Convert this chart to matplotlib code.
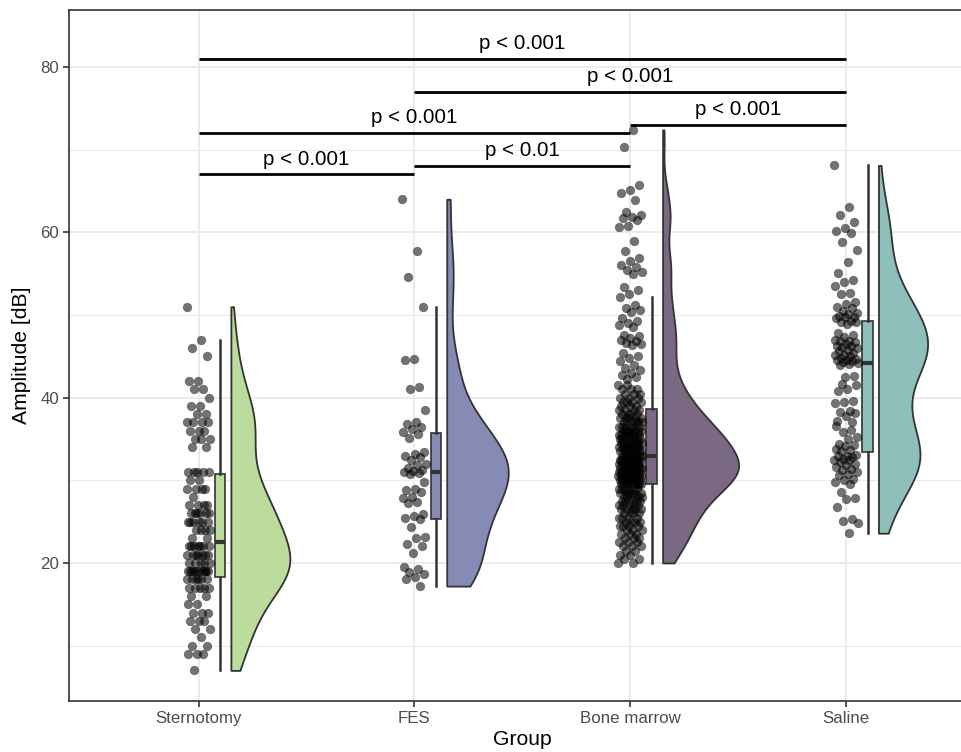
import numpy as np
import matplotlib
matplotlib.use("Agg")
import matplotlib.pyplot as plt

plt.rcParams['font.family'] = ['Liberation Sans', 'DejaVu Sans']

groups = ["Sternotomy", "FES", "Bone marrow", "Saline"]
fills = ["#bbdc9c", "#868bb5", "#7b6883", "#8ebfba"]

# amplitudes (dB)
sternotomy = [51, 47, 46, 45, 42, 42, 41, 41, 40, 39, 39, 38, 38, 37, 37, 37, 37,
              36, 36, 36, 35, 35, 35, 34, 34, 31, 31, 31, 31, 31,
              30, 30, 29, 29, 29, 29, 28, 27, 27, 27, 27, 26, 26, 26, 26, 26, 26,
              25, 25, 25, 25, 25, 25, 24, 24, 24, 24, 23, 23,
              22, 22, 22, 22, 22, 22, 22, 21, 21, 21, 21, 21, 21, 21, 20, 20, 20, 20, 20,
              19, 19, 19, 19, 19, 19, 19, 19, 19, 19,
              18, 18, 18, 18, 18, 18, 17, 17, 17, 17, 17, 16, 16, 15, 15, 14, 14, 14,
              13, 13, 13, 12, 12, 11, 10, 10, 9, 9, 9, 7]

fes = [64.0, 57.7, 54.6, 51.0, 44.7, 44.5, 41.3, 41.0, 38.5, 37.0, 36.8, 36.4, 36.2,
       35.8, 35.6, 35.1, 33.4, 33.2, 33.0, 32.8, 32.5, 32.0, 31.8, 31.5, 31.2, 31.1,
       31.0, 30.9, 30.8, 29.8, 28.9, 28.8, 28.6, 28.0, 27.9, 27.4, 27.2, 25.9, 25.7,
       25.5, 25.3, 24.4, 23.2, 23.0, 22.3, 22.1, 21.2, 19.5, 19.3, 18.9, 18.7, 18.3,
       18.1, 17.2]

# bone marrow: dense core read as value levels with counts, upper tail point by point
bm_levels = [20.0, 20.5, 21.0, 21.5, 22.0, 22.5, 23.0, 23.5, 24.0, 24.5, 25.0, 25.5,
             26.0, 26.5, 27.0, 27.5, 28.0, 28.5, 29.0, 29.5, 30.0, 30.5, 31.0, 31.5,
             32.0, 32.5, 33.0, 33.5, 34.0, 34.5, 35.0, 35.5, 36.0, 36.5, 37.0, 37.5,
             38.0, 38.5, 39.0, 39.5, 40.0, 40.5, 41.0, 41.5]
bm_counts = [2, 2, 2, 2, 3, 3, 3, 3, 3, 4, 4, 4,
             4, 5, 5, 5, 5, 6, 6, 9, 9, 10, 10, 10,
             9, 9, 9, 8, 8, 8, 7, 7, 7, 6, 6, 5,
             4, 4, 3, 4, 3, 3, 3, 2]
bm_tail = [72.4, 70.3, 65.7, 65.1, 64.8, 63.9, 62.5, 62.1, 61.9, 61.7, 61.5, 60.8,
           60.6, 58.9, 57.7, 56.9, 56.5, 56.1, 55.8, 55.5, 55.2, 54.9, 53.4, 53.0,
           52.6, 52.2, 51.2, 50.9, 50.6, 50.4, 49.6, 49.3, 49.0, 48.8, 48.6, 47.6,
           47.4, 47.2, 47.0, 46.8, 46.6, 46.5, 46.4, 45.4, 45.0, 44.8, 44.4, 44.0,
           43.6, 43.3, 43.0, 42.8, 42.5, 42.2]
bone_marrow = list(np.repeat(bm_levels, bm_counts)) + bm_tail

saline = [68.1, 63.1, 62.1, 61.3, 60.5, 60.2, 59.9, 58.8, 57.9, 56.4, 55.1, 54.2,
          54.0, 53.5, 52.7, 52.5, 51.6, 51.3, 51.0, 50.8, 50.5, 50.3, 50.1, 49.9,
          49.8, 49.7, 49.6,
          49.3, 49.2, 49.1, 48.9, 47.8, 47.6, 47.3, 47.0, 46.9,
          46.8, 46.7, 46.5, 46.3, 46.2, 46.1, 46.0, 45.8, 45.6, 45.4, 45.2, 45.1,
          45.0, 44.8, 44.7, 44.6, 44.5, 44.4, 44.3,
          44.2, 44.1, 44.0, 42.6, 42.5, 36.6, 36.1, 41.6, 41.5, 41.0, 40.8, 39.6,
          39.5, 39.4, 38.4, 38.3, 38.1, 37.8, 37.2, 37.0, 35.9, 35.2, 35.0, 34.4,
          34.3, 34.2, 33.8, 33.7, 33.6,
          33.1, 33.0, 32.9, 32.8, 32.6, 32.5, 32.4, 32.2, 32.0, 31.8, 31.6, 31.4,
          31.2, 31.0, 30.8, 30.6, 30.2, 30.0, 29.8, 29.6, 28.6, 27.9, 27.7, 26.8,
          25.3, 25.1, 24.8, 23.6]

data = [sternotomy, fes, bone_marrow, saline]

# pairwise comparisons
pairs = [(0, 1), (1, 2), (0, 2), (2, 3), (1, 3), (0, 3)]
pair_heights = [67, 68, 72, 73, 77, 81]
pair_labels = ["p < 0.001", "p < 0.01", "p < 0.001", "p < 0.001", "p < 0.001", "p < 0.001"]


def kde(vals):
    v = np.asarray(vals, float)
    n = len(v)
    iqr = np.percentile(v, 75) - np.percentile(v, 25)
    bw = 0.9 * min(v.std(ddof=1), iqr / 1.34) * n ** -0.2
    grid = np.linspace(v.min(), v.max(), 512)
    d = np.exp(-0.5 * ((grid[:, None] - v[None, :]) / bw) ** 2).sum(axis=1)
    return grid, d / (n * bw * np.sqrt(2 * np.pi))


fig = plt.figure(figsize=(9.62, 7.52), dpi=100)
ax = fig.add_axes([69 / 962, 1 - 701 / 752, (975.6 - 69) / 962, (701 - 10) / 752])

dens = [kde(d) for d in data]
dmax = max(d.max() for _, d in dens)

for i, (vals, fc) in enumerate(zip(data, fills)):
    pos = i + 1
    grid, d = dens[i]
    w = d / dmax * 0.352
    base = pos + 0.15
    ax.fill_betweenx(grid, base, base + w, facecolor=fc, edgecolor="#333333",
                     linewidth=1.3, zorder=2)

    ax.boxplot(vals, positions=[pos + 0.1], widths=0.05, patch_artist=True,
               showfliers=False, manage_ticks=False,
               boxprops=dict(facecolor=fc, edgecolor="#333333", linewidth=1.2),
               medianprops=dict(color="#333333", linewidth=3),
               whiskerprops=dict(color="#333333", linewidth=1.8),
               capprops=dict(linewidth=0), zorder=3)

    n = len(vals)
    jit = ((np.arange(n) * 0.6180339887) % 1 - 0.5) * 0.11
    ax.scatter(pos + jit, vals, s=38, facecolor=(0, 0, 0, 0.55),
               edgecolor=(0, 0, 0, 0.35), linewidth=0.6, zorder=4)

for (a, b), h, lab in zip(pairs, pair_heights, pair_labels):
    ax.plot([a + 1, b + 1], [h, h], color="black", linewidth=2.0, zorder=5,
            solid_capstyle="butt")
    ax.text((a + b) / 2 + 1, h + 0.7, lab, ha="center", va="bottom",
            fontsize=14.8, color="black", zorder=6)

ax.set_xlim(0.4, 4.6)
ax.set_ylim(3.3, 86.9)
ax.set_xticks([1, 2, 3, 4])
ax.set_xticklabels(groups)
ax.set_yticks([20, 40, 60, 80])
ax.set_yticks([10, 30, 50, 70], minor=True)

ax.set_axisbelow(True)
ax.grid(which="major", color="#ebebeb", linewidth=1.4)
ax.grid(which="minor", axis="y", color="#ebebeb", linewidth=0.8)

ax.tick_params(which="major", color="#333333", labelcolor="#4d4d4d", length=4,
               width=1.2, labelsize=12.2, pad=3)
ax.tick_params(which="minor", length=0)
for sp in ax.spines.values():
    sp.set_color("#333333")
    sp.set_linewidth(1.2)

ax.set_xlabel("Group", fontsize=15.2, labelpad=3)
ax.set_ylabel("Amplitude [dB]", fontsize=15.2, labelpad=7)

fig.savefig("out.png", dpi=100)
